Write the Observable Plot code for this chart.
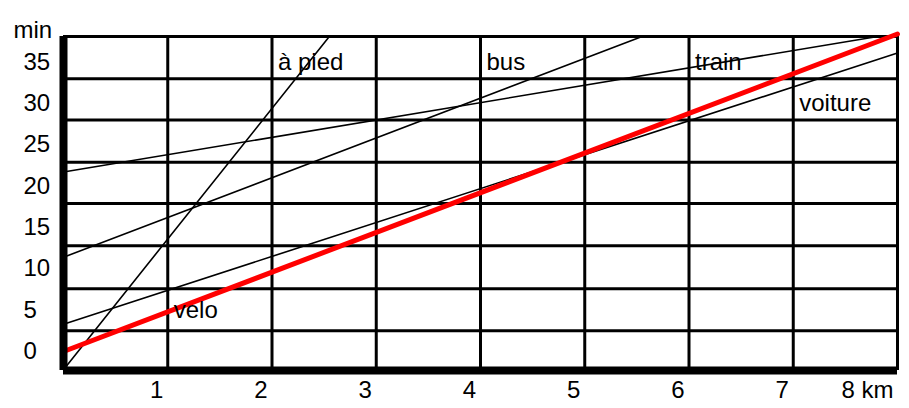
<!DOCTYPE html>
<html>
<head>
<meta charset="utf-8">
<script src="https://cdn.jsdelivr.net/npm/d3@7"></script>
<script src="https://cdn.jsdelivr.net/npm/@observablehq/plot@0.6"></script>
<style>
  html, body { margin: 0; padding: 0; background: #fff; }
  #chart svg { display: block; }
</style>
</head>
<body>
<div id="chart"></div>
<script>
// Series: distance (km) and time (min)
const apiedKm = [0, 2.55];
const apiedMin = [-2.2, 38.1];
const busKm = [0, 5.55];
const busMin = [11.4, 38.1];
const trainKm = [0, 7.81];
const trainMin = [21.7, 38.1];
const voitureKm = [0, 8];
const voitureMin = [3.3, 36.1];
const veloKm = [0, 8];
const veloMin = [0, 38.4];

// Axis ticks / labels
const xTicks = [1, 2, 3, 4, 5, 6, 7];
const xTickLabels = ["1", "2", "3", "4", "5", "6", "7"];
const xLastTick = 8;
const xLastLabel = "8 km";
const yTicks = [0, 5, 10, 15, 20, 25, 30, 35];
const yUnit = "min";

// Grid lines
const gridX = [1, 2, 3, 4, 5, 6, 7, 8];
const gridY = [2.5, 7.6, 12.8, 17.9, 22.9, 28, 33, 38.1];

// Series labels
const seriesNames = ["à pied", "bus", "train", "voiture", "velo"];
const labelKm = [2, 4, 6, 7, 1];
const labelMin = [35, 35, 35, 30, 5];

const toPts = (km, mn) => km.map((k, i) => ({km: k, min: mn[i]}));
const blackSeries = [
  toPts(apiedKm, apiedMin),
  toPts(busKm, busMin),
  toPts(trainKm, trainMin),
  toPts(voitureKm, voitureMin)
];
const velo = toPts(veloKm, veloMin);
const labels = seriesNames.map((n, i) => ({name: n, km: labelKm[i], min: labelMin[i]}));

const font = "Liberation Sans, Arial, Helvetica, sans-serif";

const chart = Plot.plot({
  width: 909,
  height: 408,
  marginLeft: 63,
  marginRight: 12,
  marginTop: 36,
  marginBottom: 38,
  style: {fontFamily: font, fontSize: "24px", background: "white", color: "black"},
  x: {domain: [0, 8], axis: null},
  y: {domain: [-2.3, 38.1], axis: null},
  marks: [
    Plot.ruleX(gridX, {stroke: "black", strokeWidth: 3}),
    Plot.ruleY(gridY, {stroke: "black", strokeWidth: 3}),
    ...blackSeries.map(s => Plot.line(s, {x: "km", y: "min", stroke: "black", strokeWidth: 1.6})),
    Plot.line(velo, {x: "km", y: "min", stroke: "#ff0000", strokeWidth: 5}),
    Plot.ruleX([0], {stroke: "black", strokeWidth: 8}),
    Plot.ruleY([-2.3], {stroke: "black", strokeWidth: 8}),
    Plot.text(labels, {x: "km", y: "min", text: "name", textAnchor: "start", dx: 6, fill: "black"}),
    Plot.text(yTicks, {y: d => d, text: d => String(d), frameAnchor: "left", textAnchor: "start", dx: -40, fill: "black"}),
    Plot.text(xTicks, {x: d => d, text: (d, i) => xTickLabels[i], frameAnchor: "bottom", dy: 27, dx: -11, fill: "black"}),
    Plot.text([xLastTick], {x: d => d, text: [xLastLabel], frameAnchor: "bottom", textAnchor: "end", dy: 27, dx: -4, fill: "black"}),
    Plot.text([yUnit], {text: d => d, frameAnchor: "top-left", textAnchor: "start", dx: -50, dy: -16, fill: "black"})
  ]
});
document.getElementById("chart").appendChild(chart);
</script>
</body>
</html>
